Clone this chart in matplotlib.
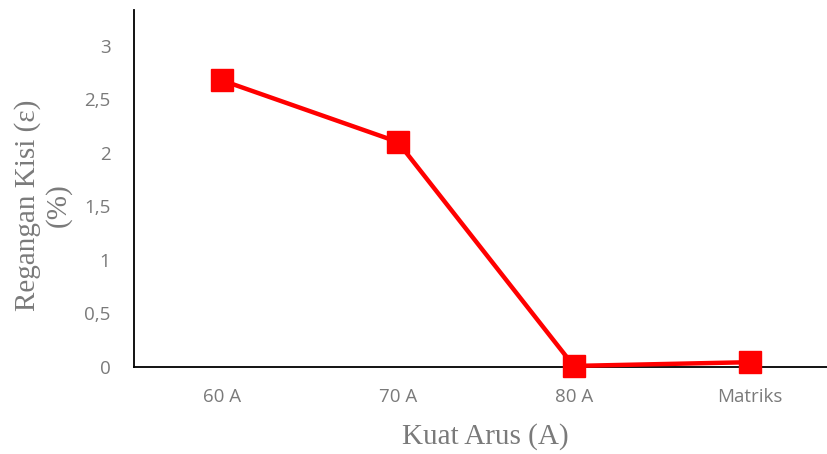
import matplotlib
matplotlib.use("Agg")
import matplotlib.pyplot as plt

categories = ["60 A", "70 A", "80 A", "Matriks"]
values = [2.675, 2.10, 0.01, 0.045]
yticks = [0, 0.5, 1, 1.5, 2, 2.5, 3]
ytick_labels = ["0", "0,5", "1", "1,5", "2", "2,5", "3"]

fig = plt.figure(figsize=(8.27, 4.54), dpi=100)
ax = fig.add_axes([0.162, 0.1916, 0.838, 0.786])

x = list(range(len(categories)))
ax.plot(x, values, color="#ff0000", linewidth=3.2, marker="s", markersize=16,
        markeredgecolor="#ff0000", markerfacecolor="#ff0000", clip_on=False, zorder=3)

ax.set_xlim(-0.5, 3.44)
ax.set_ylim(0, 3.33)
ax.set_xticks(x)
ax.set_xticklabels(categories, fontfamily="Open Sans", fontsize=13.5, color="#7a7a7a")
ax.set_yticks(yticks)
ax.set_yticklabels(ytick_labels, fontfamily="Open Sans", fontsize=13.5, color="#7a7a7a")
ax.tick_params(axis="both", length=0)
ax.tick_params(axis="x", pad=15)
ax.tick_params(axis="y", pad=17)

for s in ["top", "right"]:
    ax.spines[s].set_visible(False)
for s in ["left", "bottom"]:
    ax.spines[s].set_color("black")
    ax.spines[s].set_linewidth(1.3)

ax.set_xlabel("Kuat Arus (A)", fontfamily="Liberation Serif", fontsize=21, color="#7a7a7a")
ax.set_ylabel("Regangan Kisi (ε)\n(%)", fontfamily="Liberation Serif", fontsize=21, color="#7a7a7a",
              linespacing=1.2)
ax.xaxis.label.set_va("center")
ax.xaxis.set_label_coords(0.5065, -0.196)
ax.yaxis.label.set_va("center")
ax.yaxis.set_label_coords(-0.131, 0.454)

fig.savefig("out.png", dpi=100)
